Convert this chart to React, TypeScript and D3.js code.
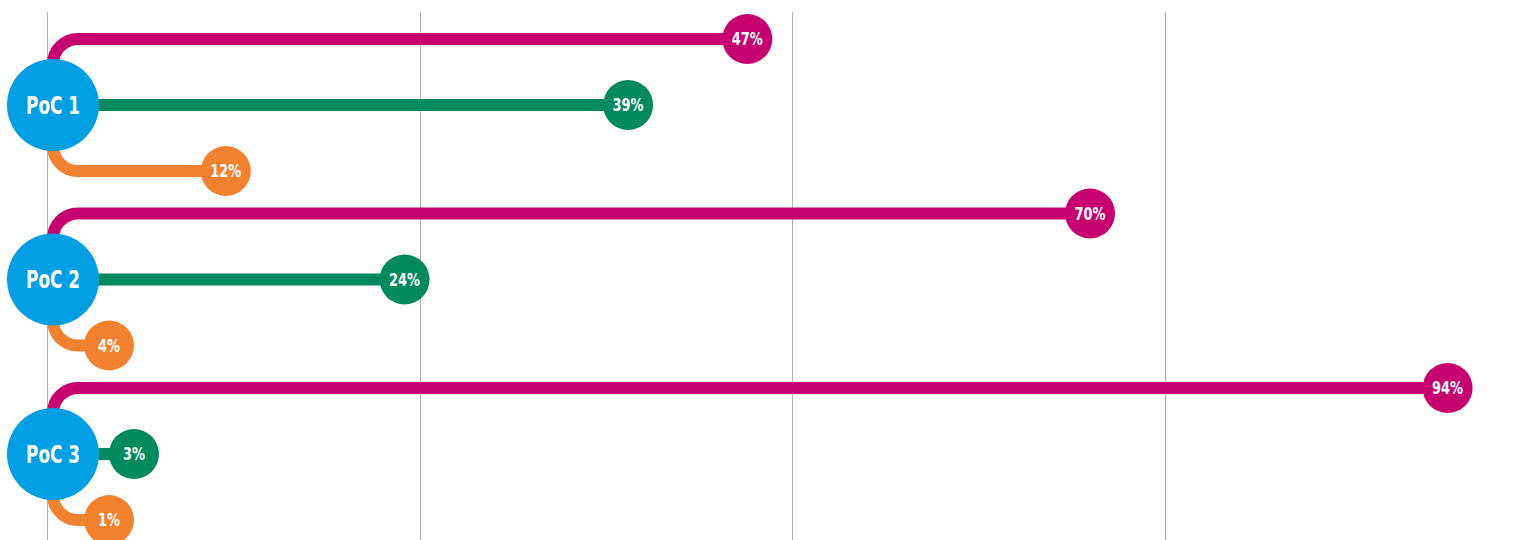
import React, { useEffect, useRef } from "react";
import * as d3 from "d3";

// three proofs of concept, each with three measures
const categories = ["PoC 1", "PoC 2", "PoC 3"];
const topValues = [47, 70, 94]; // magenta, above the hub
const midValues = [39, 24, 3]; // green, straight from the hub
const lowValues = [12, 4, 1]; // orange, below the hub
const gridTicks = [0, 25, 50, 75];

const colors = {
  hub: "#009FE3",
  top: "#C6006E",
  mid: "#008A5E",
  low: "#F28130",
  grid: "#B3B3B3",
};

const font = "'DejaVu Sans Condensed', 'Liberation Sans', sans-serif";

export default function App() {
  const svgRef = useRef<SVGSVGElement>(null);

  useEffect(() => {
    const w = 1523;
    const h = 540;
    const hubX = 53;
    const hubR = 46;
    const dotR = 25;
    const branch = 66; // vertical distance from hub to the top/low lines
    const bend = 25;
    const stroke = 12;

    const svg = d3.select(svgRef.current).attr("width", w).attr("height", h);
    svg.selectAll("*").remove();

    const x = d3.scaleLinear().domain([0, 100]).range([47, 1537]);
    const y = d3.scalePoint().domain(categories).range([105, 454]);

    svg
      .append("g")
      .selectAll("line")
      .data(gridTicks)
      .join("line")
      .attr("x1", (d) => Math.round(x(d)) + 0.5)
      .attr("x2", (d) => Math.round(x(d)) + 0.5)
      .attr("y1", 12)
      .attr("y2", h)
      .attr("stroke", colors.grid)
      .attr("stroke-width", 1);

    const rows = categories.map((c, i) => ({
      cat: c,
      cy: y(c) as number,
      branches: [
        { v: topValues[i], dy: -branch, color: colors.top, min: hubX + hubR + dotR + 10 },
        { v: midValues[i], dy: 0, color: colors.mid, min: hubX + hubR + dotR + 10 },
        { v: lowValues[i], dy: branch, color: colors.low, min: hubX + 56 },
      ],
    }));

    const branchPath = (cy: number, dy: number, dx: number) => {
      const p = d3.path();
      const ly = cy + dy;
      p.moveTo(hubX, cy);
      if (dy === 0) {
        p.lineTo(dx, cy);
      } else {
        const s = Math.sign(dy);
        p.lineTo(hubX, ly - s * bend);
        p.arcTo(hubX, ly, hubX + bend, ly, bend);
        p.lineTo(dx, ly);
      }
      return p.toString();
    };

    const g = svg.selectAll("g.row").data(rows).join("g").attr("class", "row");

    g.each(function (row) {
      const sel = d3.select(this);
      const items = row.branches.map((b) => ({
        ...b,
        dx: Math.max(x(b.v), b.min),
        ly: row.cy + b.dy,
      }));

      sel
        .selectAll("path")
        .data(items)
        .join("path")
        .attr("d", (b) => branchPath(row.cy, b.dy, b.dx))
        .attr("fill", "none")
        .attr("stroke", (b) => b.color)
        .attr("stroke-width", stroke);

      sel
        .selectAll("circle.dot")
        .data(items)
        .join("circle")
        .attr("class", "dot")
        .attr("cx", (b) => b.dx)
        .attr("cy", (b) => b.ly)
        .attr("r", dotR)
        .attr("fill", (b) => b.color);

      sel
        .selectAll("text.val")
        .data(items)
        .join("text")
        .attr("class", "val")
        .attr("transform", (b) => `translate(${b.dx},${b.ly}) scale(0.8,1)`)
        .attr("dy", "0.36em")
        .attr("text-anchor", "middle")
        .attr("fill", "#fff")
        .attr("font-family", font)
        .attr("font-weight", "bold")
        .attr("font-size", 18)
        .text((b) => `${b.v}%`);

      sel
        .append("circle")
        .attr("cx", hubX)
        .attr("cy", row.cy)
        .attr("r", hubR)
        .attr("fill", colors.hub);

      sel
        .append("text")
        .attr("transform", `translate(${hubX},${row.cy}) scale(0.78,1)`)
        .attr("dy", "0.36em")
        .attr("text-anchor", "middle")
        .attr("fill", "#fff")
        .attr("font-family", font)
        .attr("font-weight", "bold")
        .attr("font-size", 24)
        .text(row.cat);
    });
  }, []);

  return (
    <div style={{ position: "absolute", left: 0, top: 0 }}>
      <svg ref={svgRef} style={{ display: "block" }}></svg>
    </div>
  );
}
